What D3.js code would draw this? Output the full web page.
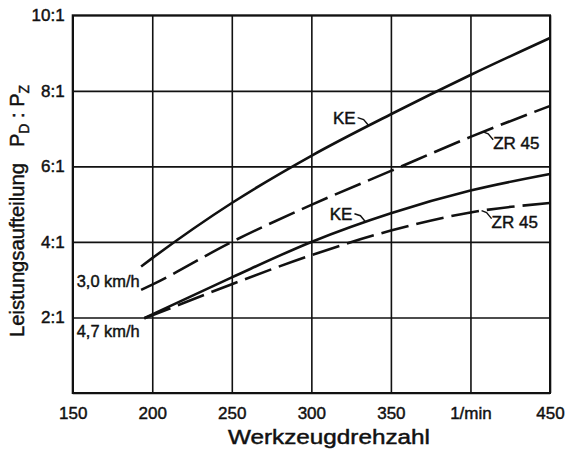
<!DOCTYPE html>
<html>
<head>
<meta charset="utf-8">
<script src="https://cdn.jsdelivr.net/npm/d3@7"></script>
<style>
  body { margin: 0; background: #fff; }
  svg { display: block; font-family: "Liberation Sans", Arial, sans-serif; }
  svg text { stroke: #111; stroke-width: 0.45px; }
</style>
</head>
<body>
<script>
// values
var rpm30 = [193, 200, 250, 300, 350, 400, 450];
var ke30  = [3.35, 3.57, 5.03, 6.28, 7.38, 8.42, 9.4];
var zr30  = [2.73, 2.87, 4.0, 4.98, 5.88, 6.78, 7.6];
var rpm47 = [195, 200, 250, 300, 350, 400, 450];
var ke47  = [1.98, 2.08, 3.06, 4.0, 4.76, 5.36, 5.8];
var zr47  = [1.98, 2.06, 2.88, 3.65, 4.3, 4.78, 5.03];

var xTicks = [150, 200, 250, 300, 350, 400, 450];
var xTickLabels = ["150", "200", "250", "300", "350", "1/min", "450"];
var yTicks = [0, 2, 4, 6, 8, 10];
var yTickLabels = ["", "2:1", "4:1", "6:1", "8:1", "10:1"];

var curveLabels = ["KE", "ZR 45", "KE", "ZR 45"];
var labelRpm = [336, 408, 334, 407];
var speedLabels = ["3,0 km/h", "4,7 km/h"];
var speedLabelValue = [2.8, 1.47];

var W = 565, H = 452;
var margin = {top: 15.3, right: 15, bottom: 59, left: 72.7},
  iw = W - margin.left - margin.right,
  ih = H - margin.top - margin.bottom;

var series = [
  {rpm: rpm30, v: ke30, dash: null},
  {rpm: rpm30, v: zr30, dash: "28,8"},
  {rpm: rpm47, v: ke47, dash: null},
  {rpm: rpm47, v: zr47, dash: "28,8"}
];

var svg = d3.select("body").append("svg")
  .attr("width", W).attr("height", H);
var g = svg.append("g")
  .attr("transform", "translate(" + margin.left + "," + margin.top + ")");

var x = d3.scaleLinear().domain([150, 450]).range([0, iw]);
var y = d3.scaleLinear().domain([0, 10]).range([ih, 0]);

// grid + tick labels
var xa = g.append("g")
  .attr("transform", "translate(0," + ih + ")")
  .call(d3.axisBottom(x).tickValues(xTicks)
    .tickFormat(function (d, i) { return xTickLabels[i]; })
    .tickSize(-ih).tickPadding(14));
var ya = g.append("g")
  .call(d3.axisLeft(y).tickValues(yTicks)
    .tickFormat(function (d, i) { return yTickLabels[i]; })
    .tickSize(-iw).tickPadding(8));

[xa, ya].forEach(function (a) {
  a.attr("font-size", 17).attr("font-family", null);
  a.select(".domain").remove();
  a.selectAll(".tick line").attr("stroke", "#111").attr("stroke-width", 1.6);
  a.selectAll(".tick text").attr("fill", "#111");
});

g.append("rect")
  .attr("width", iw).attr("height", ih)
  .attr("fill", "none").attr("stroke", "#111").attr("stroke-width", 2);

// curves
var line = d3.line()
  .x(function (d) { return x(d[0]); })
  .y(function (d) { return y(d[1]); })
  .curve(d3.curveMonotoneX);

var paths = series.map(function (s) {
  var pts = s.rpm.map(function (r, i) { return [r, s.v[i]]; });
  return g.append("path")
    .attr("d", line(pts))
    .attr("fill", "none")
    .attr("stroke", "#111")
    .attr("stroke-width", 2.6)
    .attr("stroke-dasharray", s.dash);
});

function pointAt(path, px) {
  var node = path.node(), lo = 0, hi = node.getTotalLength();
  for (var k = 0; k < 40; k++) {
    var mid = (lo + hi) / 2;
    if (node.getPointAtLength(mid).x < px) lo = mid; else hi = mid;
  }
  return node.getPointAtLength(lo);
}

// curve labels with small leader hooks
curveLabels.forEach(function (t, i) {
  var p = pointAt(paths[i], x(labelRpm[i]));
  var isKE = (i % 2 === 0);
  if (isKE) {
    g.append("polyline")
      .attr("points", [[p.x - 11, p.y - 8], [p.x - 5, p.y - 6], [p.x, p.y]].join(" "))
      .attr("fill", "none").attr("stroke", "#111").attr("stroke-width", 1.4);
    g.append("text")
      .attr("x", p.x - 13).attr("y", p.y - 2)
      .attr("text-anchor", "end")
      .attr("font-size", 17).attr("fill", "#111")
      .text(t);
  } else {
    g.append("polyline")
      .attr("points", [[p.x, p.y], [p.x + 5, p.y + 2], [p.x + 10, p.y + 8]].join(" "))
      .attr("fill", "none").attr("stroke", "#111").attr("stroke-width", 1.4);
    g.append("text")
      .attr("x", p.x + 10).attr("y", p.y + 17)
      .attr("font-size", 17).attr("fill", "#111")
      .text(t);
  }
});

speedLabels.forEach(function (t, i) {
  g.append("text")
    .attr("x", x(150) + 4).attr("y", y(speedLabelValue[i]))
    .attr("font-size", 17).attr("fill", "#111")
    .attr("textLength", 63).attr("lengthAdjust", "spacingAndGlyphs")
    .text(t);
});

// axis titles
svg.append("text")
  .attr("x", 329).attr("y", 444)
  .attr("text-anchor", "middle")
  .attr("font-size", 20).attr("fill", "#111")
  .attr("textLength", 202).attr("lengthAdjust", "spacingAndGlyphs")
  .text("Werkzeugdrehzahl");

svg.append("text")
  .attr("transform", "translate(24,250) rotate(-90)")
  .attr("text-anchor", "middle")
  .attr("font-size", 20).attr("fill", "#111")
  .attr("textLength", 174).attr("lengthAdjust", "spacingAndGlyphs")
  .text("Leistungsaufteilung");

var pt = svg.append("text")
  .attr("transform", "translate(24,147) rotate(-90)")
  .attr("font-size", 20).attr("fill", "#111");
pt.append("tspan").text("P");
pt.append("tspan").attr("font-size", 14).attr("dy", 5).text("D");
pt.append("tspan").attr("dy", -5).text(" : ");
pt.append("tspan").text("P");
pt.append("tspan").attr("font-size", 14).attr("dy", 5).text("Z");
</script>
</body>
</html>
